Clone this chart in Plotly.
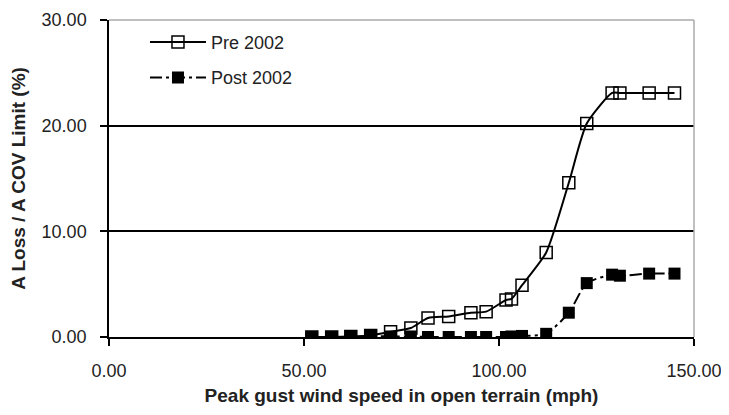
import plotly.graph_objects as go

wind_speed = [52.0, 57.1, 62.0, 67.1, 72.2, 77.4, 81.8, 87.1, 92.8, 96.7, 101.8, 103.2, 105.9, 112.1, 117.9, 122.5, 129.0, 131.0, 138.5, 145.0]
pre_2002 = [0.0, 0.0, 0.05, 0.15, 0.5, 0.85, 1.8, 1.95, 2.3, 2.4, 3.5, 3.6, 4.9, 8.0, 14.6, 20.2, 23.1, 23.1, 23.1, 23.1]
post_2002 = [0.0, 0.0, 0.0, 0.1, 0.05, 0.05, 0.0, 0.0, 0.0, 0.0, 0.0, 0.05, 0.1, 0.3, 2.3, 5.1, 5.9, 5.8, 6.0, 6.0]

fig = go.Figure()
fig.add_trace(go.Scatter(
    x=wind_speed, y=pre_2002, name="Pre 2002", mode="lines+markers", legendgroup="pre",
    line=dict(color="black", width=2, shape="spline", smoothing=0.6),
    marker=dict(symbol="square-open", size=12, color="black", line=dict(width=1.5)),
))
fig.add_trace(go.Scatter(
    x=wind_speed, y=post_2002, name="Post 2002", mode="lines+markers", legendgroup="post",
    line=dict(color="black", width=2, dash="12px,4px,3px,4px", shape="spline", smoothing=0.6),
    marker=dict(symbol="square", size=12, color="black"),
))

font = "Liberation Sans, Arial, sans-serif"
fig.update_layout(
    width=721, height=407,
    margin=dict(l=101, r=35, t=12, b=78, autoexpand=False),
    paper_bgcolor="white", plot_bgcolor="white",
    font=dict(family=font, size=18, color="#222"),
    showlegend=True,
    legend=dict(x=0.0615, y=0.988, xanchor="left", yanchor="top",
                bgcolor="rgba(0,0,0,0)", font=dict(size=18, color="#222"),
                itemwidth=56, tracegroupgap=9),
    shapes=[
        dict(type="line", xref="paper", yref="paper", x0=0, x1=1, y0=1, y1=1,
             line=dict(color="#aaa", width=1.5)),
        dict(type="line", xref="paper", yref="paper", x0=1, x1=1, y0=0, y1=1,
             line=dict(color="#aaa", width=1.5)),
    ],
)
fig.update_xaxes(
    range=[0, 150], dtick=50, tickformat=".2f",
    showgrid=False, zeroline=False,
    showline=True, linecolor="black", linewidth=1.5,
    ticks="outside", ticklen=7, tickcolor="black", tickwidth=1.5,
    ticklabelstandoff=10,
    title=dict(text="<b>Peak gust wind speed in open terrain (mph)</b>", font=dict(size=19), standoff=8),
)
fig.update_yaxes(
    range=[0, 30], dtick=10, tickformat=".2f",
    showgrid=True, gridcolor="black", gridwidth=1.5, zeroline=False,
    showline=True, linecolor="black", linewidth=1.5,
    ticks="outside", ticklen=7, tickcolor="black", tickwidth=1.5,
    ticklabelstandoff=10,
    title=dict(text="<b>A Loss / A COV Limit (%)</b>", font=dict(size=19), standoff=12),
)

fig.write_html("out.html")
